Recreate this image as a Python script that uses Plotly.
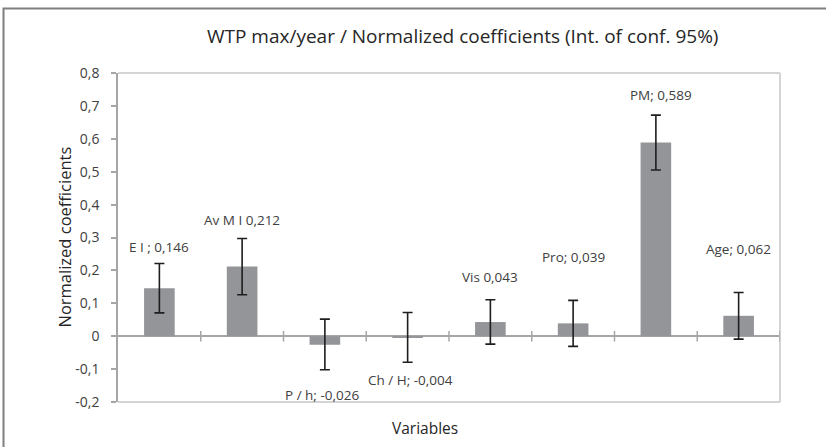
import plotly.graph_objects as go

categories = ["E I", "Av M I", "P / h", "Ch / H", "Vis", "Pro", "PM", "Age"]
values = [0.146, 0.212, -0.026, -0.004, 0.043, 0.039, 0.589, 0.062]
err_plus = [0.075, 0.085, 0.078, 0.076, 0.068, 0.070, 0.083, 0.071]
err_minus = [0.075, 0.086, 0.076, 0.075, 0.067, 0.070, 0.084, 0.071]
labels = ["E I ; 0,146", "Av M I 0,212", "P / h; -0,026", "Ch / H; -0,004",
          "Vis 0,043", "Pro; 0,039", "PM; 0,589", "Age; 0,062"]
label_y = [0.272, 0.353, -0.178, -0.134, 0.179, 0.240, 0.733, 0.264]
label_dx = [0, 0, -3, 3, 0, 0, 5, 0]
tick_vals = [-0.2, -0.1, 0, 0.1, 0.2, 0.3, 0.4, 0.5, 0.6, 0.7, 0.8]
tick_text = ["-0,2", "-0,1", "0", "0,1", "0,2", "0,3", "0,4", "0,5", "0,6", "0,7", "0,8"]

FONT = "Open Sans"
TXT = "#404040"
W, H = 826, 447
L, R, T, B = 118, 46, 73, 45
PW, PH = W - L - R, H - T - B

fig = go.Figure()
fig.add_trace(go.Bar(
    x=list(range(len(categories))), y=values,
    marker=dict(color="#949598", line=dict(width=0)),
    error_y=dict(type="data", symmetric=False, array=err_plus, arrayminus=err_minus,
                 color="#1e1e1e", thickness=1.6, width=5),
    width=0.37, hoverinfo="skip",
))

annotations = []
for i, (t, ly, dx) in enumerate(zip(labels, label_y, label_dx)):
    annotations.append(dict(x=i, y=ly, xref="x", yref="y", text=t, showarrow=False,
                            xshift=dx, font=dict(family=FONT, size=13.5, color=TXT)))
annotations.append(dict(x=0.5, y=1.0 + 37 / PH, xref="paper", yref="paper",
                        xanchor="center", yanchor="middle",
                        text="WTP max/year / Normalized coefficients (Int. of conf. 95%)",
                        showarrow=False, xshift=13, font=dict(family=FONT, size=19, color="#262626")))
annotations.append(dict(x=0.5, y=-26 / PH, xref="paper", yref="paper",
                        xanchor="center", yanchor="middle", text="Variables", showarrow=False,
                        xshift=-24, font=dict(family=FONT, size=15.5, color="#262626")))
annotations.append(dict(x=(64 - L) / PW, y=0.5, xref="paper", yref="paper",
                        xanchor="center", yanchor="middle", text="Normalized coefficients",
                        textangle=-90, showarrow=False,
                        font=dict(family=FONT, size=16.5, color="#262626")))

shapes = []
# outer frame (only top and left visible)
shapes.append(dict(type="rect", xref="paper", yref="paper",
                   x0=(3.5 - L) / PW, x1=(835 - L) / PW,
                   y0=-(455 - (H - B)) / PH, y1=((H - B) - 8.5) / PH,
                   line=dict(color="#7f7f7f", width=2), layer="below"))
# plot area border: top, right, bottom
border = dict(color="#d4d4d4", width=2)
shapes.append(dict(type="line", xref="paper", yref="paper", x0=0, x1=1, y0=1, y1=1, line=border, layer="above"))
shapes.append(dict(type="line", xref="paper", yref="paper", x0=1, x1=1, y0=0, y1=1, line=border, layer="above"))
shapes.append(dict(type="line", xref="paper", yref="paper", x0=0, x1=1, y0=0, y1=0, line=border, layer="above"))
# category boundary ticks crossing the zero line
for b in range(len(categories)):
    shapes.append(dict(type="line", xref="x", yref="y", x0=b + 0.5, x1=b + 0.5,
                       y0=-0.016, y1=0.016, line=dict(color="#a6a6a6", width=1.5)))

fig.update_layout(
    width=W, height=H, autosize=False,
    margin=dict(l=L, r=R, t=T, b=B),
    paper_bgcolor="white", plot_bgcolor="rgba(0,0,0,0)",
    showlegend=False,
    annotations=annotations, shapes=shapes,
    font=dict(family=FONT, color=TXT),
    xaxis=dict(range=[-0.5, len(categories) - 0.5], showticklabels=False, showgrid=False,
               zeroline=False, showline=False, ticks=""),
    yaxis=dict(range=[-0.2, 0.8], tickvals=tick_vals, ticktext=tick_text,
               showgrid=False, zeroline=True, zerolinecolor="#a6a6a6", zerolinewidth=1.5,
               showline=True, linecolor="#a6a6a6", linewidth=1.5,
               ticks="outside", ticklen=5, tickcolor="#a6a6a6", tickwidth=1.5,
               ticklabelstandoff=9,
               tickfont=dict(family=FONT, size=14, color=TXT)),
)

fig.write_html("out.html", config={"displayModeBar": False},
               post_script="document.body.style.margin='0';")
